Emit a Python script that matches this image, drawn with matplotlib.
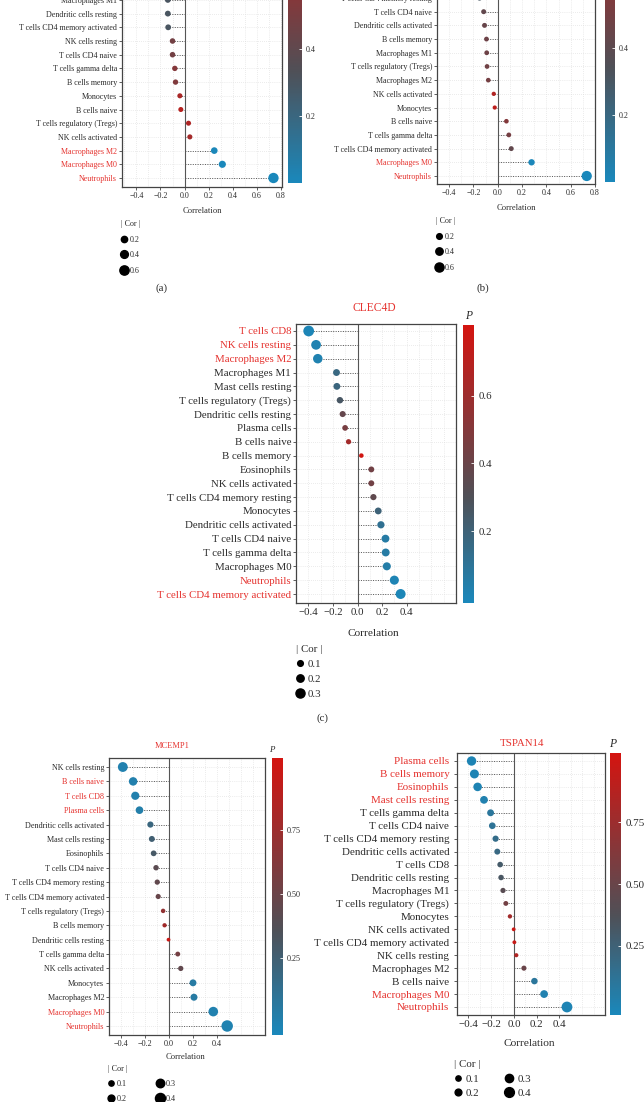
import matplotlib
matplotlib.use("Agg")
import matplotlib.pyplot as plt
import numpy as np
from matplotlib.colors import LinearSegmentedColormap, Normalize
from matplotlib.cm import ScalarMappable
from matplotlib.lines import Line2D

plt.rcParams['font.family'] = ['Liberation Serif', 'DejaVu Serif']

# ---------------- data (rows listed top to bottom) ----------------
labels_a = ["Macrophages M1", "Dendritic cells resting", "T cells CD4 memory activated",
            "NK cells resting", "T cells CD4 naive", "T cells gamma delta", "B cells memory",
            "Monocytes", "B cells naive", "T cells regulatory (Tregs)", "NK cells activated",
            "Macrophages M2", "Macrophages M0", "Neutrophils"]
cor_a = [-0.139, -0.139, -0.136, -0.10, -0.10, -0.081, -0.075, -0.039, -0.031,
         0.033, 0.044, 0.247, 0.314, 0.739]
p_a = [0.30, 0.30, 0.30, 0.48, 0.48, 0.55, 0.53, 0.70, 0.75, 0.72, 0.68, 0.01, 0.003, 0.0]
red_a = ["Macrophages M2", "Macrophages M0", "Neutrophils"]
legend_a = [0.2, 0.4, 0.6]

labels_b = ["T cells CD4 memory resting", "T cells CD4 naive", "Dendritic cells activated",
            "B cells memory", "Macrophages M1", "T cells regulatory (Tregs)", "Macrophages M2",
            "NK cells activated", "Monocytes", "B cells naive", "T cells gamma delta",
            "T cells CD4 memory activated", "Macrophages M0", "Neutrophils"]
cor_b = [-0.15, -0.116, -0.109, -0.093, -0.091, -0.088, -0.078, -0.033, -0.025,
         0.071, 0.091, 0.111, 0.278, 0.732]
p_b = [0.30, 0.42, 0.44, 0.47, 0.47, 0.48, 0.50, 0.75, 0.80, 0.56, 0.50, 0.42, 0.005, 0.0]
red_b = ["Macrophages M0", "Neutrophils"]
legend_b = [0.2, 0.4, 0.6]

title_c = "CLEC4D"
labels_c = ["T cells CD8", "NK cells resting", "Macrophages M2", "Macrophages M1",
            "Mast cells resting", "T cells regulatory (Tregs)", "Dendritic cells resting",
            "Plasma cells", "B cells naive", "B cells memory", "Eosinophils",
            "NK cells activated", "T cells CD4 memory resting", "Monocytes",
            "Dendritic cells activated", "T cells CD4 naive", "T cells gamma delta",
            "Macrophages M0", "Neutrophils", "T cells CD4 memory activated"]
cor_c = [-0.397, -0.337, -0.323, -0.171, -0.168, -0.143, -0.121, -0.101, -0.073, 0.031,
         0.112, 0.112, 0.129, 0.168, 0.19, 0.227, 0.229, 0.238, 0.299, 0.35]
p_c = [0.005, 0.02, 0.025, 0.17, 0.18, 0.26, 0.38, 0.45, 0.62, 0.80, 0.43, 0.43, 0.36,
       0.20, 0.12, 0.06, 0.06, 0.05, 0.01, 0.003]
red_c = ["T cells CD8", "NK cells resting", "Macrophages M2", "Neutrophils",
         "T cells CD4 memory activated"]
legend_c = [0.1, 0.2, 0.3]

title_d = "MCEMP1"
labels_d = ["NK cells resting", "B cells naive", "T cells CD8", "Plasma cells",
            "Dendritic cells activated", "Mast cells resting", "Eosinophils",
            "T cells CD4 naive", "T cells CD4 memory resting", "T cells CD4 memory activated",
            "T cells regulatory (Tregs)", "B cells memory", "Dendritic cells resting",
            "T cells gamma delta", "NK cells activated", "Monocytes", "Macrophages M2",
            "Macrophages M0", "Neutrophils"]
cor_d = [-0.385, -0.299, -0.281, -0.246, -0.155, -0.143, -0.128, -0.108, -0.098, -0.09,
         -0.049, -0.037, -0.004, 0.073, 0.098, 0.20, 0.208, 0.369, 0.485]
p_d = [0.001, 0.01, 0.01, 0.02, 0.20, 0.25, 0.30, 0.42, 0.45, 0.48, 0.70, 0.78, 0.98,
       0.55, 0.45, 0.05, 0.05, 0.002, 0.0]
red_d = ["B cells naive", "T cells CD8", "Plasma cells", "Macrophages M0", "Neutrophils"]
legend_d = [0.1, 0.2, 0.3, 0.4]

title_e = "TSPAN14"
labels_e = ["Plasma cells", "B cells memory", "Eosinophils", "Mast cells resting",
            "T cells gamma delta", "T cells CD4 naive", "T cells CD4 memory resting",
            "Dendritic cells activated", "T cells CD8", "Dendritic cells resting",
            "Macrophages M1", "T cells regulatory (Tregs)", "Monocytes", "NK cells activated",
            "T cells CD4 memory activated", "NK cells resting", "Macrophages M2",
            "B cells naive", "Macrophages M0", "Neutrophils"]
cor_e = [-0.372, -0.347, -0.319, -0.263, -0.205, -0.19, -0.161, -0.146, -0.121, -0.113,
         -0.096, -0.071, -0.035, -0.002, 0.004, 0.021, 0.088, 0.18, 0.265, 0.466]
p_e = [0.001, 0.002, 0.004, 0.02, 0.10, 0.12, 0.17, 0.20, 0.30, 0.33, 0.42, 0.55, 0.78,
       0.98, 0.96, 0.85, 0.50, 0.10, 0.02, 0.0]
red_e = ["Plasma cells", "B cells memory", "Eosinophils", "Mast cells resting",
         "Macrophages M0", "Neutrophils"]
legend_e = [0.1, 0.2, 0.3, 0.4]

# ---------------- styling ----------------
W, H = 644, 1102
fig = plt.figure(figsize=(W / 100, H / 100), dpi=100)
cmap = LinearSegmentedColormap.from_list(
    "pcol", [(0.0, "#1a88bb"), (0.38, "#4f5057"), (1.0, "#d41410")])
RED = "#e5332f"
TXT = "#2b2b2b"


def rect(l, t, r, b):
    return [l / W, 1 - b / H, (r - l) / W, (b - t) / H]


def diam(v, d0, k):
    # marker diameter (px) -> points
    return (np.asarray(v) * k + d0) * 0.72


def panel(box, cbox, labels, cor, p, red, first_px, last_px, xlim, xticks,
          vmin, vmax, cticks, cfmt, fs, d0, k, title=None, title_xy=None, title_fs=8,
          P_xy=None, xlabel_xy=None, leg_vals=None, leg_xy=None, leg_ncol=1,
          leg_spacing=0.6, colsp=1.8, letter=None, letter_xy=None, ypad=1.5):
    l, t, r, b = box
    ax = fig.add_axes(rect(l, t, r, b))
    n = len(labels)
    y = np.arange(n)[::-1]
    sp = (last_px - first_px) / (n - 1)
    ax.set_ylim(-(b - last_px) / sp, (n - 1) + (first_px - t) / sp)
    ax.set_xlim(*xlim)
    norm = Normalize(vmin=vmin, vmax=vmax)
    ax.set_xticks(xticks)
    ax.set_xticks(np.arange(-0.5, 0.85, 0.1), minor=True)
    ax.grid(True, which='both', linestyle=(0, (1, 2)), color='#d9d9d9', linewidth=0.5)
    ax.set_axisbelow(True)
    ax.axvline(0, color='#555555', lw=0.8, zorder=1)
    ax.hlines(y, 0, cor, linestyles=(0, (1, 1.5)), colors='#555555', lw=0.7, zorder=2)
    s = diam(np.abs(cor), d0, k) ** 2
    ax.scatter(cor, y, c=p, cmap=cmap, norm=norm, s=s, edgecolors='none', zorder=3)
    ax.set_yticks(y)
    ax.set_yticklabels(labels, fontsize=fs)
    for lab, tl in zip(labels, ax.get_yticklabels()):
        tl.set_color(RED if lab in red else TXT)
    ax.set_xticklabels([f"{v:.1f}".replace("-", "\u2212") for v in xticks],
                       fontsize=fs, color=TXT)
    ax.tick_params(axis='both', which='major', length=2, width=0.6, color='#444444', pad=1.5)
    ax.tick_params(axis='y', which='major', pad=ypad)
    ax.tick_params(axis='x', which='minor', length=0)
    for sp_ in ax.spines.values():
        sp_.set_color('#444444')
        sp_.set_linewidth(0.9)
    # colorbar
    cax = fig.add_axes(rect(*cbox))
    cb = fig.colorbar(ScalarMappable(norm=norm, cmap=cmap), cax=cax)
    cb.outline.set_visible(False)
    cb.set_ticks(cticks)
    cb.set_ticklabels([cfmt.format(v) for v in cticks])
    cax.tick_params(direction='in', color='white', length=2.5, width=0.6,
                    labelsize=fs, labelcolor=TXT, pad=3)
    if title:
        fig.text(title_xy[0] / W, 1 - title_xy[1] / H, title, color=RED,
                 fontsize=title_fs, ha='center', va='center')
    if P_xy:
        fig.text(P_xy[0] / W, 1 - P_xy[1] / H, "P", fontsize=fs + 0.5,
                 style='italic', ha='center', va='center', color=TXT)
    fig.text(xlabel_xy[0] / W, 1 - xlabel_xy[1] / H, "Correlation", fontsize=fs + 0.3,
             ha='center', va='center', color=TXT)
    handles = [Line2D([], [], marker='o', ls='', color='black',
                      markersize=diam(v, d0, k)) for v in leg_vals]
    leg = ax.legend(handles, [f"{v:.1f}" for v in leg_vals], title="| Cor |",
                    loc='upper left', bbox_to_anchor=(leg_xy[0] / W, 1 - leg_xy[1] / H),
                    bbox_transform=fig.transFigure, frameon=False, fontsize=fs,
                    title_fontsize=fs, ncol=leg_ncol, handlelength=0.8,
                    handletextpad=0.3, labelspacing=leg_spacing, borderpad=0,
                    borderaxespad=0, columnspacing=colsp)
    leg._legend_box.align = "left"
    for txt in leg.get_texts():
        txt.set_color(TXT)
    leg.get_title().set_color(TXT)
    if letter:
        fig.text(letter_xy[0] / W, 1 - letter_xy[1] / H, letter, fontsize=7.8,
                 ha='center', va='center', color=TXT)
    return ax


# (a)
panel((122, -110, 282, 187), (288, -110, 302, 183), labels_a, cor_a, p_a, red_a,
      -0.1, 178, (-0.52, 0.81), [-0.4, -0.2, 0.0, 0.2, 0.4, 0.6, 0.8],
      0.0, 0.875, [0.2, 0.4], "{:.1f}", 5.8, 4.8, 7.5,
      xlabel_xy=(202, 211), leg_vals=legend_a, leg_xy=(121, 220), leg_spacing=0.95,
      letter="(a)", letter_xy=(162, 288))

# (b)
panel((437, -120, 595, 184), (605, -120, 615, 182), labels_b, cor_b, p_b, red_b,
      -2, 176, (-0.4, 0.8), [-0.4, -0.2, 0.0, 0.2, 0.4, 0.6, 0.8],
      0.0, 0.9, [0.2, 0.4], "{:.1f}", 5.8, 4.0, 8.5,
      xlabel_xy=(516, 208), leg_vals=legend_b, leg_xy=(436, 217), leg_spacing=0.95,
      letter="(b)", letter_xy=(483, 288))

# (c)
panel((296, 324, 456, 603), (463, 325, 474, 603), labels_c, cor_c, p_c, red_c,
      331, 594, (-0.42, 0.41), [-0.4, -0.2, 0.0, 0.2, 0.4],
      -0.013, 0.81, [0.2, 0.4, 0.6], "{:.1f}", 7.8, 4.0, 17.0,
      title=title_c, title_xy=(374, 308), title_fs=8.3, P_xy=(469, 316),
      xlabel_xy=(373, 633), leg_vals=legend_c, leg_xy=(296, 645), leg_spacing=0.5,
      letter="(c)", letter_xy=(322, 718))

# (d)
panel((109, 758, 265, 1035), (272, 758, 283, 1035), labels_d, cor_d, p_d, red_d,
      767, 1026, (-0.424, 0.528), [-0.4, -0.2, 0.0, 0.2, 0.4],
      -0.05, 1.03, [0.25, 0.50, 0.75], "{:.2f}", 5.9, 3.7, 16.0,
      title=title_d, title_xy=(172, 746), title_fs=6.0, P_xy=(272, 750),
      xlabel_xy=(186, 1057), leg_vals=legend_d, leg_xy=(108, 1065), leg_ncol=2,
      leg_spacing=0.85, colsp=3.6)

# (e)
panel((457, 753, 605, 1015), (610, 753, 621, 1015), labels_e, cor_e, p_e, red_e,
      761, 1007, (-0.4125, 0.5125), [-0.4, -0.2, 0.0, 0.2, 0.4],
      -0.03, 1.03, [0.25, 0.50, 0.75], "{:.2f}", 7.9, 3.8, 15.0,
      title=title_e, title_xy=(522, 743), title_fs=7.8, P_xy=(613, 744),
      xlabel_xy=(529, 1043), leg_vals=legend_e, leg_xy=(454, 1060), leg_ncol=2,
      leg_spacing=0.45, colsp=2.3, ypad=3.5)

fig.savefig("out.png", dpi=100, facecolor='white')
